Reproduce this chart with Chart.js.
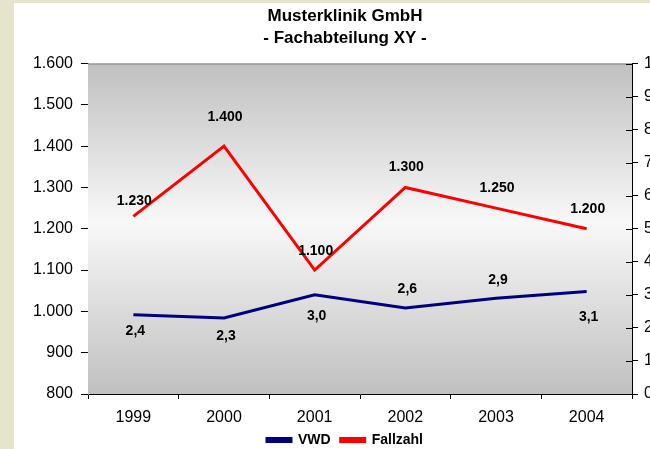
<!DOCTYPE html>
<html>
<head>
<meta charset="utf-8">
<script src="https://cdn.jsdelivr.net/npm/chart.js@4/dist/chart.umd.min.js"></script>
<style>
  html, body { margin: 0; padding: 0; background: #e6e4cd; overflow: hidden; width: 650px; height: 449px; }
  #chart { position: absolute; left: 14px; top: 3px; background: #ffffff; }
</style>
</head>
<body>
<canvas id="chart" width="662" height="454"></canvas>
<script>
// data
const years = ['1999', '2000', '2001', '2002', '2003', '2004'];
const vwd = [2.4, 2.3, 3.0, 2.6, 2.9, 3.1];
const fallzahl = [1230, 1400, 1100, 1300, 1250, 1200];
const leftMin = 800, leftMax = 1600, leftStep = 100;
const rightMin = 0, rightMax = 10, rightStep = 1;

// where the value labels sit relative to their point (px, negative = above)
const fallOffsets = [-15, -29, -19, -20, -20, -20];
const vwdOffsets = [16, 18, 21, -19, -18, 26];

const FONT = "'Liberation Sans', Arial, sans-serif";

function thousands(v) {
  return String(Math.round(v)).replace(/\B(?=(\d{3})+(?!\d))/g, '.');
}
function decimalComma(v) {
  return v.toFixed(1).replace('.', ',');
}

const plotDeco = {
  id: 'plotDeco',
  beforeDatasetsDraw(chart) {
    const { ctx, chartArea: a } = chart;
    const g = ctx.createLinearGradient(0, a.top, 0, a.bottom);
    g.addColorStop(0, '#c0c0c0');
    g.addColorStop(0.48, '#f8f8f8');
    g.addColorStop(1, '#c0c0c0');
    ctx.save();
    ctx.fillStyle = g;
    ctx.fillRect(a.left, a.top, a.right - a.left, a.bottom - a.top);
    ctx.strokeStyle = '#808080';
    ctx.lineWidth = 1;
    ctx.beginPath();
    ctx.moveTo(a.left, a.top + 0.5);
    ctx.lineTo(a.right, a.top + 0.5);
    ctx.stroke();
    ctx.restore();
  },
  afterDraw(chart) {
    const { ctx, chartArea: a } = chart;
    const y2 = chart.scales.y2;
    ctx.save();
    ctx.strokeStyle = '#000';
    ctx.lineWidth = 1;
    ctx.beginPath();
    y2.ticks.forEach((t, i) => {
      const y = Math.round(y2.getPixelForTick(i)) + 0.5;
      ctx.moveTo(a.right - 6, y);
      ctx.lineTo(a.right, y);
    });
    ctx.stroke();

    // value labels
    ctx.font = 'bold 14px ' + FONT;
    ctx.fillStyle = '#000';
    ctx.textAlign = 'center';
    ctx.textBaseline = 'middle';
    const m0 = chart.getDatasetMeta(0);
    m0.data.forEach((pt, i) => {
      ctx.fillText(decimalComma(vwd[i]), pt.x + 2, pt.y + vwdOffsets[i]);
    });
    const m1 = chart.getDatasetMeta(1);
    m1.data.forEach((pt, i) => {
      ctx.fillText(thousands(fallzahl[i]), pt.x + 1, pt.y + fallOffsets[i]);
    });
    ctx.restore();
  }
};

new Chart(document.getElementById('chart'), {
  type: 'line',
  data: {
    labels: years,
    datasets: [
      {
        label: 'VWD',
        data: vwd,
        yAxisID: 'y2',
        borderColor: '#000080',
        backgroundColor: '#000080',
        borderWidth: 3,
        pointRadius: 0,
        tension: 0
      },
      {
        label: 'Fallzahl',
        data: fallzahl,
        yAxisID: 'y',
        borderColor: '#ff0000',
        backgroundColor: '#ff0000',
        borderWidth: 3,
        pointRadius: 0,
        tension: 0
      }
    ]
  },
  options: {
    responsive: false,
    animation: false,
    devicePixelRatio: 1,
    layout: { padding: 0 },
    scales: {
      x: {
        offset: true,
        grid: { offset: true, drawOnChartArea: false, tickLength: 5, color: '#000' },
        border: { color: '#000' },
        ticks: { color: '#000', font: { family: FONT, size: 16 }, padding: 9, maxRotation: 0 },
        afterFit(s) { s.height = 29; }
      },
      y: {
        position: 'left',
        min: leftMin,
        max: leftMax,
        grid: { drawOnChartArea: false, tickLength: 7, color: '#000' },
        border: { color: '#808080' },
        ticks: {
          stepSize: leftStep,
          color: '#000',
          font: { family: FONT, size: 16 },
          padding: 8,
          callback: v => thousands(v)
        },
        afterFit(s) { s.width = 74; }
      },
      y2: {
        position: 'right',
        min: rightMin,
        max: rightMax,
        grid: { drawOnChartArea: false, tickLength: 6, color: '#000' },
        border: { color: '#000' },
        ticks: { stepSize: rightStep, color: '#000', font: { family: FONT, size: 16 }, padding: 6 },
        afterFit(s) { s.width = 44; }
      }
    },
    plugins: {
      title: {
        display: true,
        text: ['Musterklinik GmbH', '- Fachabteilung XY -'],
        color: '#000',
        font: { family: FONT, size: 17, weight: 'bold', lineHeight: 1.25 },
        padding: { top: 3, bottom: 15 }
      },
      legend: {
        position: 'bottom',
        labels: {
          color: '#000',
          font: { family: FONT, size: 14, weight: 'bold' },
          boxWidth: 24,
          boxHeight: 3,
          padding: 10
        }
      },
      tooltip: { enabled: false }
    }
  },
  plugins: [plotDeco]
});
</script>
</body>
</html>
